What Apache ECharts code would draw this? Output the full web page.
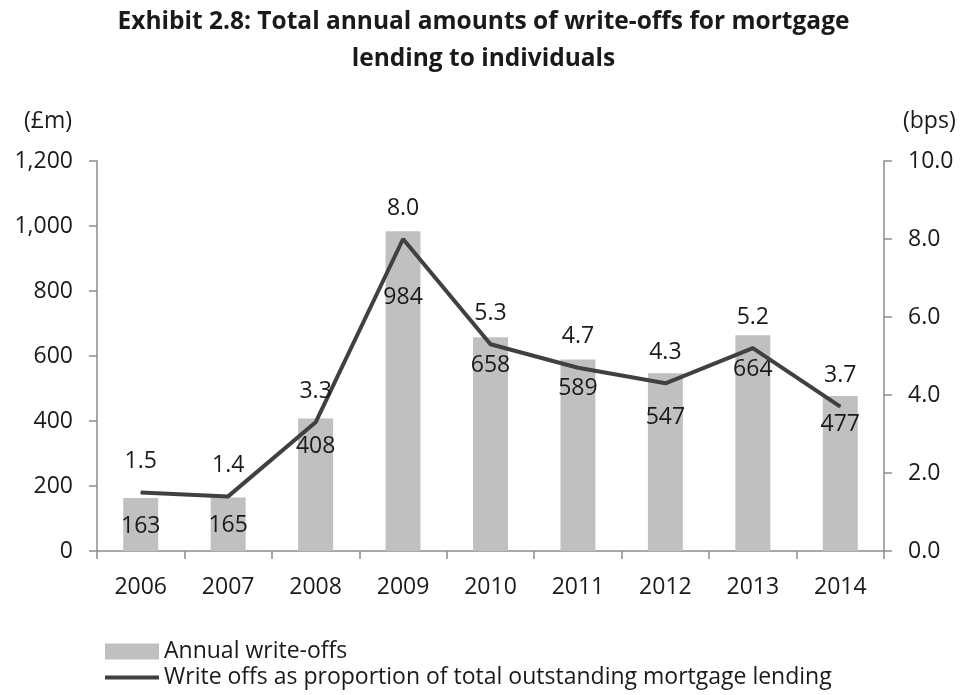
<!DOCTYPE html>
<html>
<head>
<meta charset="utf-8">
<script src="https://cdn.jsdelivr.net/npm/echarts@6/dist/echarts.min.js"></script>
<style>
  html, body { margin: 0; padding: 0; background: #fff; }
  #chart { width: 967px; height: 695px; }
</style>
</head>
<body>
<div id="chart"></div>
<script>
// Mortgage write-offs by year
const years = ['2006', '2007', '2008', '2009', '2010', '2011', '2012', '2013', '2014'];
const annualWriteOffs = [163, 165, 408, 984, 658, 589, 547, 664, 477];       // £m
const writeOffRatio = [1.5, 1.4, 3.3, 8.0, 5.3, 4.7, 4.3, 5.2, 3.7];          // bps

const titleLines = [
  'Exhibit 2.8: Total annual amounts of write-offs for mortgage',
  'lending to individuals'
];
const barName = 'Annual write-offs';
const lineName = 'Write offs as proportion of total outstanding mortgage lending';

// extra downward shift for bar labels that would otherwise collide with the line
const barLabelShift = { '2009': 38, '2012': 16, '2013': 6 };

const FONT = '"Open Sans", Lato, sans-serif';
const TXT = '#1a1a1a';
const AXIS = '#8c8c8c';
const FS = 23;

const chart = echarts.init(document.getElementById('chart'));

chart.setOption({
  backgroundColor: '#ffffff',
  animation: false,
  textStyle: { fontFamily: FONT, color: TXT },
  title: titleLines.map((t, i) => ({
    text: t,
    left: 'center',
    top: 10 + i * 37,
    padding: 0,
    textStyle: { fontFamily: FONT, fontWeight: 'bold', fontSize: 24.5, color: TXT }
  })),
  grid: { left: 97, right: 83, top: 161, bottom: 144 },
  legend: {
    orient: 'vertical',
    left: 105,
    top: 640,
    padding: 0,
    itemWidth: 54,
    itemHeight: 16,
    itemGap: 3,
    textStyle: { fontFamily: FONT, fontSize: FS, color: TXT, padding: [0, 0, 0, 0] },
    data: [
      { name: barName, icon: 'rect' },
      { name: lineName, icon: 'path://M0,6H54V10H0Z' }
    ]
  },
  xAxis: {
    type: 'category',
    data: years,
    axisLine: { lineStyle: { color: AXIS, width: 1.5 } },
    axisTick: { show: true, length: 8, lineStyle: { color: AXIS, width: 1.5 } },
    axisLabel: { fontFamily: FONT, fontSize: FS, color: TXT, margin: 25 }
  },
  yAxis: [
    {
      type: 'value',
      min: 0, max: 1200, interval: 200,
      name: '(£m)',
      nameLocation: 'end',
      nameGap: 28,
      nameTextStyle: { fontFamily: FONT, fontSize: FS, color: TXT, align: 'right', padding: [0, 25, 0, 0] },
      axisLine: { show: true, lineStyle: { color: AXIS, width: 1.5 } },
      axisTick: { show: true, length: 8, lineStyle: { color: AXIS, width: 1.5 } },
      splitLine: { show: false },
      axisLabel: {
        fontFamily: FONT, fontSize: FS, color: TXT, margin: 24,
        formatter: v => v.toLocaleString('en-GB')
      }
    },
    {
      type: 'value',
      min: 0, max: 10, interval: 2,
      name: '(bps)',
      nameLocation: 'end',
      nameGap: 28,
      nameTextStyle: { fontFamily: FONT, fontSize: FS, color: TXT, align: 'left', padding: [0, 0, 0, 19] },
      axisLine: { show: true, lineStyle: { color: AXIS, width: 1.5 } },
      axisTick: { show: true, length: 8, lineStyle: { color: AXIS, width: 1.5 } },
      splitLine: { show: false },
      axisLabel: {
        fontFamily: FONT, fontSize: FS, color: TXT, margin: 24,
        formatter: v => v.toFixed(1)
      }
    }
  ],
  series: [
    {
      name: barName,
      type: 'bar',
      yAxisIndex: 0,
      barWidth: '40%',
      itemStyle: { color: '#c0c0c0' },
      data: annualWriteOffs.map((v, i) => ({
        value: v,
        label: { offset: [0, barLabelShift[years[i]] || 0] }
      })),
      label: {
        show: true,
        position: 'insideTop',
        distance: 17,
        fontFamily: FONT, fontSize: FS, color: TXT
      },
      z: 1
    },
    {
      name: lineName,
      type: 'line',
      yAxisIndex: 1,
      data: writeOffRatio,
      symbol: 'circle',
      symbolSize: 1,
      showSymbol: true,
      lineStyle: { color: '#404040', width: 4 },
      itemStyle: { color: '#404040' },
      label: {
        show: true,
        position: 'top',
        distance: 19,
        fontFamily: FONT, fontSize: FS, color: TXT,
        formatter: p => p.value.toFixed(1)
      },
      z: 3
    }
  ]
});
</script>
</body>
</html>
